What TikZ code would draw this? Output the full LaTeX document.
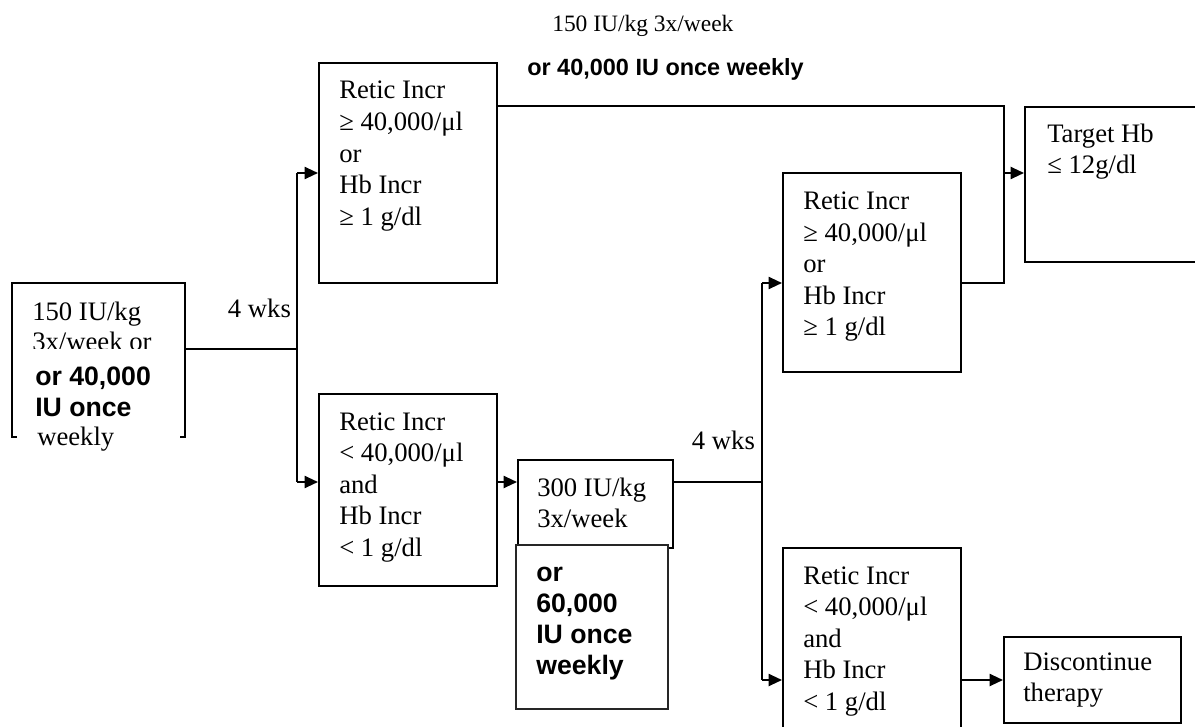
\documentclass[tikz,border=0pt]{standalone}
\usepackage{fontspec}
\setmainfont{Liberation Serif}
\newfontfamily\sansf{Liberation Sans}
\usetikzlibrary{arrows.meta,fit}
\tikzset{
  box/.style={draw, line width=1.5pt, inner sep=0pt},
  hidebox/.style={inner sep=0pt},
  thinbox/.style={draw=black!85, line width=0.8pt, fill=white, inner sep=0pt},
  txt/.style={inner sep=0pt, anchor=base west, font=\fontsize{20}{24}\selectfont},
  btxt/.style={inner sep=0pt, anchor=base west, font=\fontsize{20}{24}\selectfont\sansf\bfseries},
  toptxt/.style={inner sep=0pt, anchor=base west, font=\fontsize{17.6}{21}\selectfont},
  topbtxt/.style={inner sep=0pt, anchor=base west, font=\fontsize{17.6}{21}\selectfont\sansf\bfseries},
  conn/.style={line width=1.5pt},
  arr/.style={conn, -{Triangle[length=10pt,width=9pt]}},
}
\newcommand\txtlines[6]{%
  \foreach \t [count=\i] in {#6} {\node[#1] (#2-\i) at ({#3},{#4+(\i-1)*#5}) {\t};}}
\begin{document}
\begin{tikzpicture}[x=0.75pt,y=-0.75pt]
\useasboundingbox (0,0) rectangle (1195,727);
\clip (0,0) rectangle (1195,727);

% row coordinates
\coordinate (y106) at (0,106);
\coordinate (y173) at (0,173);
\coordinate (y283) at (0,283);
\coordinate (y482) at (0,482);
\coordinate (y680) at (0,680);
\coordinate (j1) at (297,349);
\coordinate (j2) at (762,482);
\coordinate (j3) at (1004,106);

% boxes
\node[hidebox, fit={(12,283)(185,437)}] (L) {};
\draw[conn] ([xshift=3.75pt]L.south west) -- (L.south west) -- (L.north west) -- (L.north east) -- (L.south east) -- ([xshift=-3.75pt]L.south east);
\node[box, fit={(319,63)(497,283)}] (b1) {};
\node[box, fit={(319,394)(497,586)}] (b2) {};
\node[box, fit={(518,460)(673,548)}] (b300) {};
\node[thinbox, fit={(516,545)(668,709)}] (b60) {};
\node[box, fit={(783,173)(961,372)}] (b3) {};
\node[box, fit={(783,548)(961,812)}] (b4) {};
\node[box, fit={(1025,107)(1260,262)}] (tgt) {};
\node[box, fit={(1004,637)(1181,723)}] (disc) {};

% connectors
\draw[conn] (L.east |- j1) -- (j1);
\draw[conn] (j1) -- (j1 |- y173);
\draw[conn] (j1) -- (j1 |- y482);
\draw[arr] (j1 |- y173) -- (b1.west |- y173);
\draw[arr] (j1 |- y482) -- (b2.west |- y482);
\draw[arr] (b2.east |- y482) -- (b300.west |- y482);
\draw[conn] (b300.east |- y482) -- (j2);
\draw[conn] (j2 |- y283) -- (j2 |- y680);
\draw[arr] (j2 |- y283) -- (b3.west |- y283);
\draw[arr] (j2 |- y680) -- (b4.west |- y680);
\draw[arr] (b4.east |- y680) -- (disc.west |- y680);
\draw[conn] (b1.east |- y106) -- (j3) |- (b3.east |- y283);
\draw[arr] (j3 |- y173) -- (tgt.west |- y173);

% top labels
\node[toptxt] (top1) at (552,32) {150 IU/kg 3x/week};
\node[topbtxt] (top2) at (527,76) {or 40,000 IU once weekly};

% left box text
\node[txt] (L-1) at (32,320) {150 IU/kg};
\node[txt] (L-2) at (32,350.5) {3x/week or};
\fill[white] (14,348.5) rectangle (183,432);
\node[btxt] (L-3) at (35,385) {or 40,000};
\node[btxt] (L-4) at (35,416) {IU once};
\node[txt] (L-5) at (37,445) {weekly};

% wks labels
\node[txt] (wk1) at (227.7,317.7) {4 wks};
\node[txt] (wk2) at (691.7,449) {4 wks};

% box texts
\txtlines{txt}{t1}{339}{99}{31.6}{Retic Incr, {≥ 40,000/μl}, or, Hb Incr, {≥ 1 g/dl}}
\txtlines{txt}{t2}{339}{430}{31.6}{Retic Incr, {< 40,000/μl}, and, Hb Incr, {< 1 g/dl}}
\txtlines{txt}{t3}{803}{209.5}{31.6}{Retic Incr, {≥ 40,000/μl}, or, Hb Incr, {≥ 1 g/dl}}
\txtlines{txt}{t4}{803}{584}{31.6}{Retic Incr, {< 40,000/μl}, and, Hb Incr, {< 1 g/dl}}
\txtlines{txt}{t300}{537}{496}{31}{300 IU/kg, 3x/week}
\txtlines{btxt}{t60}{536}{581}{31}{or, {60,000}, IU once, weekly}
\txtlines{txt}{tt}{1047}{143}{31}{Target Hb, {≤ 12g/dl}}
\txtlines{txt}{td}{1023}{670.7}{30.5}{Discontinue, therapy}
\end{tikzpicture}
\end{document}
